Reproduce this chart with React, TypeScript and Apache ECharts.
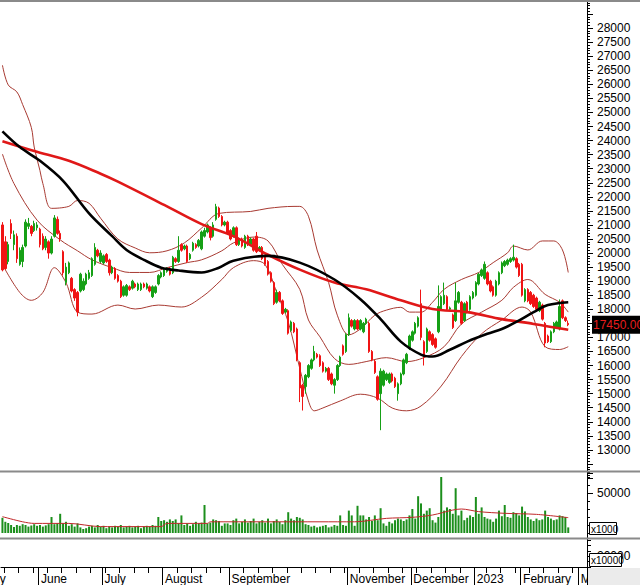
import React, { useEffect, useRef } from "react";
import * as echarts from "echarts";

const FONT = "'Liberation Sans', Arial, Helvetica, sans-serif";

// category slots (trading days); the last few are empty room before the axis
const slotCount = 203;
const monthStarts = [13, 35, 56, 79, 120, 142, 164, 180, 200];
const monthNames = ["June", "July", "August", "September", "November", "December", "2023", "February", "March"];
const weekTicks = [1, 6, 11, 16, 21, 26, 31, 36, 41, 46, 51, 56, 61, 66, 71, 76, 79, 84, 89, 94, 99, 104, 109, 114, 119, 124, 129, 134, 139, 144, 149, 154, 159, 164, 168, 173, 178, 183, 188, 193, 198];

// [open, close, low, high]
const ohlc: number[][] = [
  [21000, 19400, 19350, 21100], [20400, 19450, 19400, 20600], [19700, 20300, 19600, 20400], [21050, 20700, 20500, 21200],
  [20300, 20650, 20100, 20800], [20600, 19800, 19650, 20700], [19600, 20100, 19550, 20200], [19700, 20200, 19500, 20300],
  [20250, 21100, 20200, 21200], [20950, 21050, 20850, 21250], [20950, 20700, 20600, 21000], [20800, 21050, 20750, 21150],
  [20900, 21000, 20800, 21100], [20850, 20300, 20200, 20900], [20600, 20150, 20100, 20700], [20200, 20500, 20100, 20600],
  [20400, 20000, 19800, 20450], [20000, 20500, 19950, 20600], [20600, 21250, 20550, 21350], [21200, 20700, 20650, 21300],
  [20700, 20500, 20400, 20800], [20050, 19300, 19200, 20100], [18950, 19500, 18850, 19650], [19300, 19650, 19250, 19700],
  [19100, 18650, 18600, 19150], [18700, 18400, 18300, 18750], [18600, 17900, 17750, 18650], [18650, 19250, 18600, 19300],
  [18700, 19000, 18650, 19100], [18900, 19250, 18850, 19300], [19100, 19300, 19050, 19400], [19200, 19800, 19150, 19850],
  [19600, 20200, 19550, 20350], [20100, 19900, 19850, 20150], [19700, 20000, 19650, 20100], [19650, 19900, 19600, 19950],
  [19950, 19700, 19650, 20000], [19750, 19300, 19200, 19800], [19300, 19500, 19250, 19550], [19450, 19100, 19050, 19500],
  [19200, 19000, 18950, 19250], [19000, 18450, 18400, 19050], [18500, 18800, 18450, 18850], [18500, 18850, 18450, 18900],
  [18800, 18700, 18650, 18850], [18750, 19000, 18700, 19050], [18900, 18800, 18750, 18950], [18700, 18900, 18650, 18950],
  [18700, 18900, 18650, 18950], [18900, 18800, 18750, 18950], [18750, 18900, 18700, 18950], [18800, 18650, 18600, 18850],
  [18450, 18800, 18400, 18850], [18600, 18800, 18550, 18850], [18900, 19200, 18850, 19250], [19150, 19300, 19100, 19350],
  [19200, 19400, 19150, 19450], [19350, 19450, 19300, 19500], [19450, 19250, 19200, 19500], [19300, 19850, 19250, 19900],
  [19800, 19700, 19650, 19850], [19700, 20100, 19650, 20600], [20300, 20100, 20050, 20350], [20150, 20250, 20100, 20300],
  [20250, 19700, 19650, 20300], [19800, 19950, 19750, 20000], [20100, 20350, 20050, 20400], [20300, 20200, 20150, 20350],
  [20250, 20450, 20200, 20500], [20150, 20750, 20100, 20800], [20600, 20800, 20550, 20900], [20750, 21000, 20700, 21050],
  [20900, 20550, 20450, 20950], [20600, 21000, 20550, 21100], [21200, 21650, 21150, 21750], [21600, 21300, 21250, 21650],
  [21300, 21000, 20950, 21350], [21000, 21100, 20950, 21150], [21100, 20700, 20650, 21150], [20800, 20500, 20450, 20850],
  [20600, 20900, 20550, 20950], [20900, 20300, 20250, 20950], [20300, 20500, 20250, 20550], [20500, 20250, 20200, 20550],
  [20200, 20600, 20150, 20650], [20600, 20300, 20250, 20650], [20300, 20500, 20250, 20550], [20500, 20100, 20050, 20550],
  [20600, 20050, 20000, 20750], [20100, 20200, 20050, 20250], [20200, 19800, 19750, 20250], [19850, 19600, 19550, 19900],
  [19700, 19250, 19200, 19750], [19300, 19000, 18950, 19350], [18950, 18200, 18150, 19000], [18250, 18600, 18200, 18700],
  [18600, 18300, 18250, 18650], [18300, 17850, 17800, 18350], [17900, 18000, 17850, 18050], [17950, 17150, 17100, 18000],
  [17250, 17550, 17200, 17600], [17500, 17200, 17150, 17550], [17300, 16200, 16150, 17350], [16100, 15200, 14700, 16150],
  [15300, 14900, 14400, 15350], [15250, 15650, 15000, 15700], [15600, 16000, 15550, 16050], [15900, 16200, 15850, 16250],
  [16200, 16500, 16150, 16700], [16400, 16300, 16250, 16450], [16350, 16000, 15950, 16400], [16100, 15800, 15750, 16150],
  [15800, 15900, 15750, 15950], [15900, 15500, 15450, 15950], [15700, 15350, 15300, 15750], [15300, 15500, 15000, 15550],
  [15500, 16000, 15450, 16050], [16000, 16300, 15950, 16350], [16700, 16400, 16350, 16750], [16500, 17100, 16450, 17150],
  [17100, 17700, 17050, 17850], [17600, 17400, 17350, 17650], [17300, 17600, 17250, 17650], [17600, 17300, 17250, 17650],
  [17300, 17600, 17250, 17650], [17200, 17500, 17150, 17550], [17500, 17650, 17450, 17700], [17500, 16500, 16450, 17550],
  [16500, 16200, 16150, 16550], [16150, 15750, 15700, 16200], [15600, 14800, 14750, 15650], [15000, 15800, 13700, 15900],
  [15300, 15800, 15250, 15850], [15500, 15700, 15450, 15750], [15400, 15700, 15350, 15750], [15700, 15450, 15400, 15750],
  [15550, 15250, 15200, 15600], [15000, 15350, 14750, 15400], [15350, 15700, 15300, 15750], [15700, 16200, 15650, 16250],
  [16100, 16400, 16050, 16450], [16600, 17050, 16550, 17100], [16900, 17200, 16850, 17250], [17150, 17500, 17100, 17550],
  [17400, 17700, 17350, 17750], [18200, 17000, 16900, 18700], [16850, 16300, 16000, 16900], [16500, 17300, 16450, 17350],
  [17200, 16900, 16850, 17250], [17100, 16750, 16700, 17150], [16950, 16650, 16600, 17000], [17200, 18100, 17150, 18850],
  [18000, 18450, 17950, 18500], [18200, 18500, 18150, 18950], [18450, 18000, 17950, 18500], [18000, 18050, 17950, 18100],
  [17800, 17350, 17300, 17850], [17600, 18300, 17550, 18950], [18250, 18600, 18200, 18650], [18250, 17500, 17450, 18300],
  [17600, 18200, 17550, 18250], [18250, 17900, 17850, 18300], [18000, 18450, 17950, 18500], [18400, 18600, 18350, 18650],
  [18500, 18950, 18450, 19000], [18900, 19250, 18850, 19300], [19200, 19400, 19150, 19450], [19100, 19600, 19050, 19700],
  [19300, 18900, 18850, 19350], [19000, 18650, 18600, 19050], [18800, 18500, 18450, 18850], [18500, 19000, 18450, 19050],
  [18900, 19300, 18850, 19350], [19300, 19650, 19250, 19700], [19550, 19700, 19500, 19750], [19600, 19750, 19550, 19800],
  [19700, 19800, 19650, 19850], [19750, 19850, 19700, 20300], [19800, 19500, 19450, 19850], [19600, 19200, 19150, 19650],
  [19600, 18500, 18450, 19650], [18300, 18700, 18250, 18750], [18700, 18300, 18250, 18750], [18600, 18200, 18150, 18650],
  [18500, 18100, 18050, 18550], [18400, 18000, 17950, 18450], [17950, 18250, 17900, 18300], [18150, 17650, 17600, 18200],
  [17500, 16800, 16650, 17550], [17050, 16850, 16800, 17100], [16850, 17200, 16800, 17250], [17200, 17500, 17150, 17550],
  [17350, 17550, 17300, 17600], [17300, 18100, 17250, 18350], [18300, 17700, 17650, 18350], [17700, 17600, 17550, 17750],
  [17500, 17450, 17400, 17600],
];

// volume (x1000)
const volumes = [
  19000, 14000, 12500, 10000, 7500, 10000, 9000, 11000, 10000, 8000,
  9500, 11000, 9000, 10000, 8000, 9500, 11000, 20000, 11000, 12000,
  24000, 12000, 14000, 9000, 11000, 8000, 12000, 7000, 5000, 6000,
  8000, 9000, 7000, 10000, 8000, 9000, 6000, 8000, 7000, 9000,
  8000, 10000, 7000, 8000, 9000, 7000, 8000, 9000, 6000, 8000,
  9000, 8000, 10000, 9000, 20000, 15000, 16000, 14000, 17000, 15000,
  17000, 12000, 22000, 10000, 12000, 9000, 11000, 14000, 12000, 13000,
  35000, 12000, 13000, 17000, 16000, 15000, 9000, 12000, 12000, 10000,
  16000, 18000, 12000, 14000, 17000, 13000, 15000, 18000, 12000, 14000,
  16000, 13000, 18000, 12000, 15000, 17000, 14000, 11000, 16000, 26000,
  18000, 16000, 20000, 19000, 17000, 11000, 10000, 8000, 9000, 7000,
  8000, 9000, 10000, 7000, 8000, 10000, 9000, 22000, 10000, 9000,
  28000, 22000, 9000, 34000, 22000, 22000, 17000, 20000, 15000, 22000,
  16000, 31000, 12000, 9000, 14000, 12000, 16000, 18000, 17000, 15000,
  17000, 22000, 30000, 18000, 46000, 37000, 24000, 28000, 31000, 16000,
  13000, 20000, 70000, 28000, 32000, 30000, 24000, 56000, 22000, 28000,
  16000, 19000, 22000, 20000, 45000, 24000, 32000, 20000, 18000, 17000,
  14000, 18000, 28000, 21000, 35000, 20000, 19000, 26000, 25000, 22000,
  33000, 27000, 20000, 17000, 15000, 18000, 16000, 17000, 28000, 20000,
  18000, 16000, 17000, 22000, 21000, 20000, 7000,
];

// indicator lines: [day index, value]
const ma200 = [[0, 23980], [11, 23630], [23, 23280], [34, 22820], [40, 22540], [57, 21660], [69, 21030], [80, 20600], [92, 19940], [103, 19410], [115, 18950], [126, 18710], [138, 18320], [149, 18010], [161, 17900], [173, 17650], [184, 17480], [196, 17270]];
const ma50 = [[0, 24330], [6, 23770], [13, 23280], [21, 22570], [30, 21410], [38, 20600], [43, 20110], [49, 19760], [55, 19480], [61, 19380], [69, 19310], [75, 19480], [80, 19730], [92, 19900], [103, 19660], [115, 19060], [124, 18360], [131, 17650], [138, 16850], [145, 16390], [149, 16320], [155, 16560], [161, 16850], [168, 17130], [173, 17300], [178, 17550], [184, 17900], [189, 18150], [196, 18250]];
const bbUpper = [[0, 26680], [2, 25980], [5, 25730], [7, 25280], [10, 24470], [11, 23770], [13, 22930], [14, 22470], [17, 21590], [23, 21660], [26, 21870], [30, 21770], [34, 21240], [40, 20500], [46, 20180], [51, 20010], [57, 20080], [63, 20360], [69, 20890], [75, 21410], [86, 21480], [92, 21590], [101, 21660], [103, 21660], [106, 21310], [109, 20110], [113, 18950], [116, 17790], [120, 17090], [124, 17300], [129, 17790], [133, 17970], [138, 18070], [141, 17900], [145, 17900], [149, 18250], [153, 18710], [159, 19060], [165, 19310], [170, 19660], [175, 20010], [177, 20250], [182, 20110], [187, 20430], [191, 20430], [194, 20110], [196, 19310]];
const bbMiddle = [[0, 23520], [4, 22470], [12, 21170], [20, 20470], [26, 20080], [31, 19760], [38, 19480], [44, 19310], [51, 19310], [57, 19480], [64, 19660], [69, 19760], [76, 20080], [80, 20360], [87, 20570], [92, 20430], [97, 19590], [103, 18710], [106, 17620], [110, 17020], [115, 16250], [120, 16040], [126, 16140], [133, 16280], [140, 16140], [146, 16280], [153, 16670], [159, 17480], [166, 17900], [173, 18320], [177, 18780], [182, 19060], [188, 18530], [193, 18250], [196, 17900]];
const bbLower = [[0, 19590], [6, 18600], [10, 18320], [14, 18600], [18, 19480], [22, 18950], [26, 17900], [31, 17830], [40, 18150], [46, 18010], [54, 18150], [62, 18080], [69, 18430], [76, 19060], [80, 19480], [87, 19730], [91, 19590], [95, 18600], [99, 17550], [103, 15900], [106, 14740], [108, 14390], [111, 14490], [117, 14740], [124, 14980], [130, 14840], [135, 14490], [140, 14390], [145, 14560], [152, 15270], [159, 16320], [166, 17130], [173, 17620], [180, 18080], [183, 17900], [188, 16670], [193, 16570], [196, 16670]];
const volumeMa = [[0, 20400], [7, 14000], [11, 12000], [23, 12000], [34, 8000], [55, 8000], [57, 12000], [71, 12000], [72, 14000], [110, 14000], [122, 14000], [133, 18300], [142, 19600], [149, 22500], [156, 28700], [159, 30000], [165, 26700], [174, 24600], [185, 23300], [196, 19200]];
const lastPrice = 17450;

const UP = "#16a016";
const DOWN = "#f01414";
const BAND = "#a83a32";

export default function App() {
  const ref = useRef<HTMLDivElement>(null);
  useEffect(() => {
    document.body.style.margin = "0";
    const chart = echarts.init(ref.current!, null, { renderer: "svg" });
    const categories = Array.from({ length: slotCount }, (_, i) => String(i));
    const axisColor = "#000";
    const lineSeries = (data: number[][], color: string, width: number, xi = 0) => ({
      type: "line",
      xAxisIndex: xi,
      yAxisIndex: xi,
      data,
      symbol: "none",
      smooth: 0.35,
      silent: true,
      lineStyle: { color, width },
      z: 3,
    });
    chart.setOption({
      animation: false,
      backgroundColor: "#ffffff",
      textStyle: { fontFamily: FONT },
      grid: [
        { left: 1, right: 53, top: -6, height: 484 },
        { left: 1, right: 53, top: 473, height: 60 },
        { left: 1, right: 53, top: 540, height: 27 },
      ],
      xAxis: [
        { type: "category", gridIndex: 0, data: categories, show: false },
        { type: "category", gridIndex: 1, data: categories, show: false },
        {
          type: "category",
          gridIndex: 2,
          data: categories,
          position: "bottom",
          axisLine: { show: true, lineStyle: { color: axisColor, width: 1 } },
          axisTick: { show: true, interval: (i: number) => weekTicks.includes(i), length: 6, lineStyle: { color: axisColor } },
          axisLabel: {
            interval: (i: number) => monthStarts.includes(i),
            formatter: (v: string) => monthNames[monthStarts.indexOf(Number(v))] ?? "",
            align: "left",
            margin: 6,
            padding: [0, 0, 0, 1],
            color: "#000",
            fontSize: 12,
            fontFamily: FONT,
          },
          splitLine: { show: false },
        },
        {
          type: "category",
          gridIndex: 2,
          data: categories,
          position: "bottom",
          axisLine: { show: false },
          axisTick: { show: true, interval: (i: number) => monthStarts.includes(i), length: 18, lineStyle: { color: axisColor } },
          axisLabel: { show: false },
          splitLine: { show: false },
        },
      ],
      yAxis: [
        {
          type: "value",
          gridIndex: 0,
          position: "right",
          min: 12000,
          max: 29000,
          interval: 500,
          axisLine: { show: true, lineStyle: { color: axisColor } },
          axisTick: { show: true, length: 6, lineStyle: { color: axisColor } },
          minorTick: { show: true, splitNumber: 5, length: 3, lineStyle: { color: axisColor } },
          splitLine: { show: false },
          axisLabel: {
            color: "#000",
            fontSize: 12,
            fontFamily: FONT,
            margin: 10,
            formatter: (v: number) => (v >= 13000 && v <= 28000 && v !== 17500 ? String(v) : ""),
          },
        },
        {
          type: "value",
          gridIndex: 1,
          position: "right",
          min: 0,
          max: 75000,
          interval: 50000,
          axisLine: { show: true, lineStyle: { color: axisColor } },
          axisTick: { show: true, length: 6, lineStyle: { color: axisColor } },
          minorTick: { show: true, splitNumber: 5, length: 3, lineStyle: { color: axisColor } },
          splitLine: { show: false },
          axisLabel: { color: "#000", fontSize: 12, fontFamily: FONT, margin: 10, formatter: (v: number) => (v === 50000 ? "50000" : "") },
        },
        {
          type: "value",
          gridIndex: 2,
          position: "right",
          min: 0,
          max: 50000,
          interval: 10000,
          axisLine: { show: true, lineStyle: { color: axisColor } },
          axisTick: { show: true, length: 4, lineStyle: { color: axisColor } },
          splitLine: { show: false },
          axisLabel: { color: "#000", fontSize: 12, fontFamily: FONT, margin: 10, formatter: (v: number) => (v === 20000 ? "20000" : "") },
        },
      ],
      series: [
        lineSeries(bbUpper, BAND, 1),
        lineSeries(bbMiddle, BAND, 1),
        lineSeries(bbLower, BAND, 1),
        {
          type: "candlestick",
          xAxisIndex: 0,
          yAxisIndex: 0,
          data: ohlc,
          barWidth: 2,
          silent: true,
          z: 4,
          itemStyle: { color: UP, color0: DOWN, borderColor: UP, borderColor0: DOWN, borderWidth: 1 },
        },
        { ...lineSeries(ma200, "#e01818", 2.6), z: 5 },
        { ...lineSeries(ma50, "#000000", 2.6), z: 6 },
        {
          type: "bar",
          xAxisIndex: 1,
          yAxisIndex: 1,
          data: volumes,
          barWidth: 2,
          silent: true,
          itemStyle: { color: "#1c8f1c" },
        },
        { ...lineSeries(volumeMa, "#c0282a", 1, 1), smooth: 0.3 },
      ],
      graphic: [
        { id: "sepTop", type: "rect", z: 100, shape: { x: 0, y: 0, width: 640, height: 2 }, style: { fill: "#8a8a8a" } },
        { id: "sep1", type: "rect", z: 100, shape: { x: 0, y: 470.5, width: 640, height: 2 }, style: { fill: "#8a8a8a" } },
        { id: "sep2", type: "rect", z: 100, shape: { x: 0, y: 537.5, width: 640, height: 2 }, style: { fill: "#8a8a8a" } },
        { id: "vline", type: "line", z: 99, shape: { x1: 587.5, y1: 0, x2: 587.5, y2: 567 }, style: { stroke: "#000", lineWidth: 1 } },
        { id: "corner", type: "rect", z: 100, shape: { x: 588, y: 568, width: 52, height: 17 }, style: { fill: "#ebebeb" } },
        { id: "box1", type: "rect", z: 101, shape: { x: 589.5, y: 522.5, width: 27, height: 12 }, style: { fill: "#fff", stroke: "#000", lineWidth: 1 } },
        { id: "box1t", type: "text", z: 102, x: 591, y: 529, style: { text: "x1000", fontSize: 10, fontFamily: FONT, fill: "#000", verticalAlign: "middle" } },
        { id: "box2", type: "rect", z: 101, shape: { x: 589.5, y: 553.5, width: 32, height: 13 }, style: { fill: "#fff", stroke: "#000", lineWidth: 1 } },
        { id: "box2t", type: "text", z: 102, x: 591, y: 560.5, style: { text: "x10000", fontSize: 10, fontFamily: FONT, fill: "#000", verticalAlign: "middle" } },
        { id: "may", type: "text", z: 102, x: -17, y: 573, style: { text: "May", fontSize: 12, fontFamily: FONT, fill: "#000", verticalAlign: "top" } },
      ],
    });
    // price tag placed through the price axis scale
    const tagY = chart.convertToPixel({ yAxisIndex: 0 }, lastPrice) as number;
    chart.setOption({
      graphic: [
        { id: "tagBg", type: "rect", z: 110, shape: { x: 592, y: tagY - 9, width: 52, height: 18 }, style: { fill: "#000" } },
        { id: "tagText", type: "text", z: 111, x: 593, y: tagY + 0.5, style: { text: lastPrice.toFixed(2), fontSize: 12, fontFamily: FONT, fill: "#e81c1c", verticalAlign: "middle" } },
      ],
    });
    return () => chart.dispose();
  }, []);
  return <div ref={ref} style={{ position: "absolute", left: 0, top: 0, width: 640, height: 585 }} />;
}
